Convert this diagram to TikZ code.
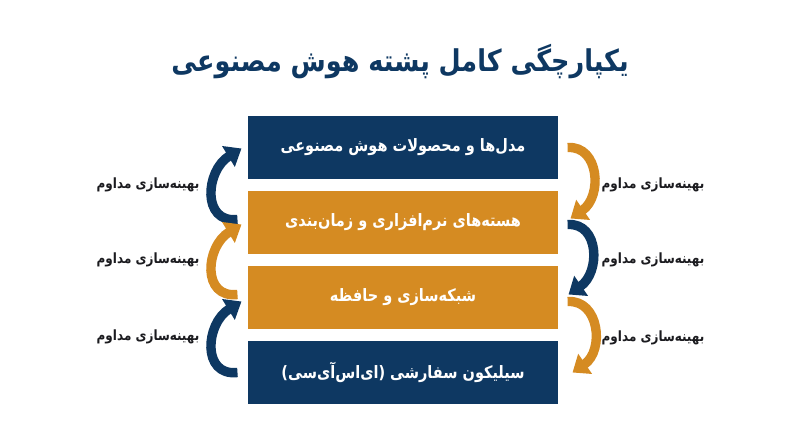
\documentclass[tikz,border=0pt]{standalone}
\usepackage{fontspec}
\TeXXeTstate=1
\newfontfamily\arabicfont[Script=Arabic, FakeStretch=0.85]{DejaVu Sans}
\usetikzlibrary{positioning}
\usetikzlibrary{calc}
\usetikzlibrary{arrows.meta}
\definecolor{navy}{HTML}{0E3862}
\definecolor{gold}{HTML}{D58B22}
\definecolor{ink}{HTML}{1B1B1F}
\tikzset{blk/.style={minimum width=264pt, minimum height=54pt, inner sep=0pt, text=white, font=\arabicfont\bfseries\fontsize{14.5}{18}\selectfont}}
\tikzset{lbl/.style={inner sep=0pt, text=ink, font=\arabicfont\bfseries\fontsize{12}{14}\selectfont}}
\tikzset{loop/.style={line width=8pt, -{Triangle[width=20pt,length=13pt]}}}

\begin{document}
\begin{tikzpicture}[x=0.85pt, y=-0.85pt]
\useasboundingbox (0,0) rectangle (800,447);
\node[text=navy, font=\arabicfont\bfseries\fontsize{25.5}{30}\selectfont] (title) at (400,62) {\beginR یکپارچگی کامل پشته هوش مصنوعی\endR};

\begin{scope}[on grid]
\node[blk, fill=navy] (mdl) at (403,147.5) {\beginR مدل^^^^200cها و محصولات هوش مصنوعی\endR};
\node[blk, fill=gold] (core) [below = 63.75pt of mdl] {\beginR هسته^^^^200cهای نرم^^^^200cافزاری و زمان^^^^200cبندی\endR};
\node[blk, fill=gold] (net) [below = 63.75pt of core] {\beginR شبکه^^^^200cسازی و حافظه\endR};
\node[blk, fill=navy] (sil) [below = 63.75pt of net] {\beginR سیلیکون سفارشی (ای^^^^200cاس^^^^200cآی^^^^200cسی)\endR};
\end{scope}

% loop ends on the left
\coordinate (l1s) at ($(core.west)+(-10,-3)$);
\coordinate (l1e) at ($(mdl.west)+(-6,1)$);
\coordinate (l2s) at ($(net.west)+(-10,-3)$);
\coordinate (l2e) at ($(core.west)+(-6,2)$);
\coordinate (l3s) at ($(sil.west)+(-10,0)$);
\coordinate (l3e) at ($(net.west)+(-6,4)$);
% loop ends on the right
\coordinate (r1s) at ($(mdl.east)+(9,0)$);
\coordinate (r1e) at ($(core.east)+(12,-4)$);
\coordinate (r2s) at ($(core.east)+(9,2)$);
\coordinate (r2e) at ($(net.east)+(10,-3)$);
\coordinate (r3s) at ($(net.east)+(9,4)$);
\coordinate (r3e) at ($(sil.east)+(14,0)$);

\draw[loop, navy] (l1s) .. controls ($(l1s)+(-36,4)$) and ($(l1e)+(-36,22)$) .. (l1e);
\draw[loop, gold] (l2s) .. controls ($(l2s)+(-36,4)$) and ($(l2e)+(-36,22)$) .. (l2e);
\draw[loop, navy] (l3s) .. controls ($(l3s)+(-36,4)$) and ($(l3e)+(-36,22)$) .. (l3e);

\draw[loop, gold] (r1s) .. controls ($(r1s)+(32,-2)$) and ($(r1e)+(32,-22)$) .. (r1e);
\draw[loop, navy] (r2s) .. controls ($(r2s)+(32,-2)$) and ($(r2e)+(32,-22)$) .. (r2e);
\draw[loop, gold] (r3s) .. controls ($(r3s)+(32,-2)$) and ($(r3e)+(32,-22)$) .. (r3e);

\node[lbl] (la) at (148,185) {\beginR بهینه^^^^200cسازی مداوم\endR};
\node[lbl] (lb) at (148,260) {\beginR بهینه^^^^200cسازی مداوم\endR};
\node[lbl] (lc) at (148,337) {\beginR بهینه^^^^200cسازی مداوم\endR};
\node[lbl] (ra) at (653,185) {\beginR بهینه^^^^200cسازی مداوم\endR};
\node[lbl] (rb) at (653,260) {\beginR بهینه^^^^200cسازی مداوم\endR};
\node[lbl] (rc) at (653,338) {\beginR بهینه^^^^200cسازی مداوم\endR};
\end{tikzpicture}
\end{document}
